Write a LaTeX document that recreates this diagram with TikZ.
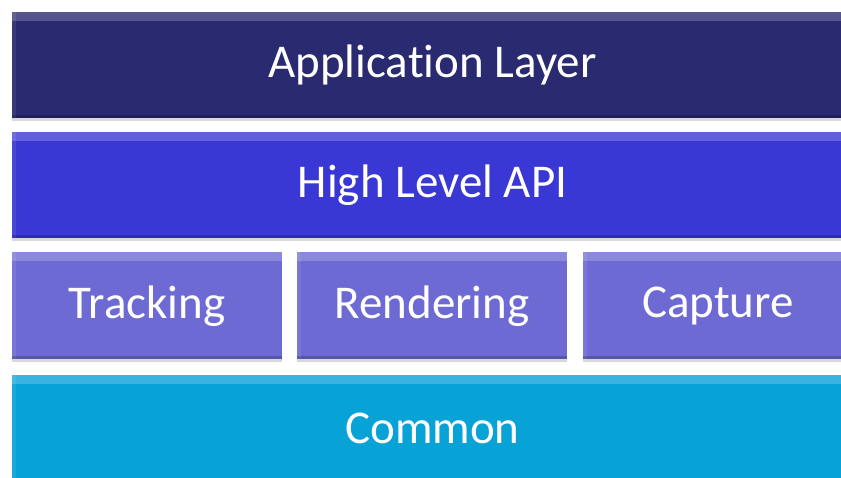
\documentclass[tikz,border=0pt]{standalone}
\usepackage{fontspec}
\setmainfont{Carlito}[Ligatures=NoCommon]
\usetikzlibrary{shadows}
\tikzset{
  layer/.style={draw=none, text=white, inner sep=0pt, minimum height=106pt,
    font=\fontsize{47}{54}\selectfont,
    drop shadow={shadow xshift=0pt, shadow yshift=-3pt, opacity=.25, fill=black!60},
    path picture={
      % lichte rand bovenaan
      \fill[white, opacity=.2] (path picture bounding box.north west) rectangle ([yshift=-9pt]path picture bounding box.north east);
      \fill[white, opacity=.08] (path picture bounding box.north west) rectangle ([xshift=4pt]path picture bounding box.south west);
      % donkere rand onderaan
      \fill[black, opacity=.2] (path picture bounding box.south west) rectangle ([yshift=3pt]path picture bounding box.south east);
    }},
  widelayer/.style={layer, minimum width=841pt},
  module/.style={layer, minimum width=270pt, minimum height=107pt}
}
\begin{document}
\begin{tikzpicture}[x=1pt, y=-1pt]
    % kleuren van de lagen
    \definecolor{appnavy}{RGB}{42,42,112}
    \definecolor{apiblue}{RGB}{58,56,212}
    \definecolor{modviolet}{RGB}{109,107,211}
    \definecolor{commoncyan}{RGB}{7,162,214}

    \useasboundingbox (0,0) rectangle (841,478);
    \fill[white] (0,0) rectangle (841,478);

    % 1. bovenste lagen
    \node[widelayer, fill=appnavy] (app) at (432.5,65) {Application Layer};
    \node[widelayer, fill=apiblue] (api) at (432.5,185) {High Level API};

    % 2. modules
    \node[module, fill=modviolet] (tracking) at (147,306) {Tracking};
    \node[module, fill=modviolet] (rendering) at (432,306) {Rendering};
    \node[module, fill=modviolet] (capture) at (718,306) {Capture};

    % 3. onderste laag
    \node[widelayer, fill=commoncyan] (common) at (432.5,428) {Common};
\end{tikzpicture}
\end{document}
